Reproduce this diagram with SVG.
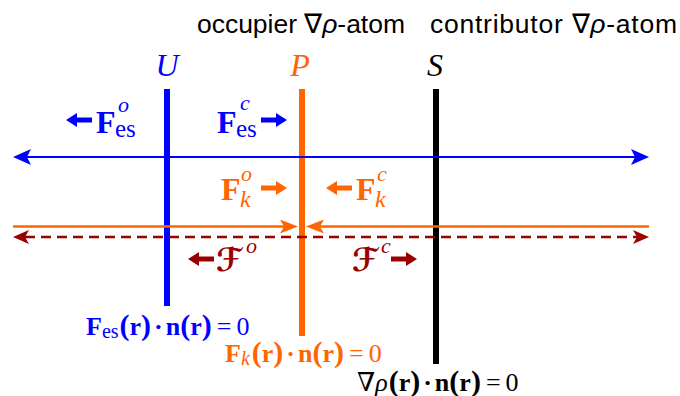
<svg xmlns="http://www.w3.org/2000/svg" width="680" height="396" viewBox="0 0 680 396">
<style>
.t{font-family:"Liberation Sans",Arial,sans-serif;font-size:26.5px;fill:#000}
.lab{font-family:"Liberation Serif","DejaVu Serif",serif;font-style:italic;font-size:32px;text-anchor:middle}
.F{font-family:"Liberation Serif",serif;font-weight:bold;font-size:32px}
.sub{font-family:"Liberation Serif",serif;font-size:25px}
.it{font-family:"Liberation Serif",serif;font-style:italic;font-size:24px}
.sup{font-family:"Liberation Serif",serif;font-style:italic;font-size:22px}
.scr{font-family:"DejaVu Sans","Noto Sans",serif;font-weight:bold;font-size:32px}
.eq{font-family:"Liberation Serif","DejaVu Serif",serif;font-weight:bold;font-size:26px}
.eqs{font-family:"Liberation Serif",serif;font-weight:normal;font-size:20px}
.par{font-size:30px}
.eqn{font-weight:normal}
.blue{fill:#0000FF}
.orange{fill:#FF6600}
.dred{fill:#990000}
.blk{fill:#000}
</style>
<defs>
<path id="fa" d="M0,-2.5 H15 V-7 L26,0 L15,7 V2.5 H0 Z"/>
<marker id="mb" viewBox="0 0 18 16" refX="4" refY="8" markerWidth="18" markerHeight="16" markerUnits="userSpaceOnUse" orient="auto-start-reverse"><path d="M0,0 L18,8 L0,16 L4,8 Z" fill="#0000FF"/></marker>
<marker id="mo" viewBox="0 0 18 14" refX="4" refY="7" markerWidth="18" markerHeight="14" markerUnits="userSpaceOnUse" orient="auto-start-reverse"><path d="M0,0 L18,7 L0,14 L4,7 Z" fill="#FF6600"/></marker>
<marker id="mr" viewBox="0 0 16 14" refX="4" refY="7" markerWidth="16" markerHeight="14" markerUnits="userSpaceOnUse" orient="auto-start-reverse"><path d="M0,0 L16,7 L0,14 L4,7 Z" fill="#990000"/></marker>
</defs>

<g id="titles">
<text class="t" x="197" y="33" textLength="208" lengthAdjust="spacing">occupier ∇<tspan font-style="italic">ρ</tspan>-atom</text>
<text class="t" x="430" y="33" textLength="247" lengthAdjust="spacing">contributor ∇<tspan font-style="italic">ρ</tspan>-atom</text>
</g>

<g id="node-U">
<text class="lab blue" x="167" y="76">U</text>
<rect x="164" y="89" width="6" height="217" class="blue"/>
<text class="eq blue" x="86" y="335">F<tspan class="eqs" dy="3">es</tspan><tspan class="par" dx="1" dy="-3">(</tspan>r<tspan class="par">)</tspan><tspan dx="3">·</tspan><tspan dx="3">n</tspan><tspan class="par">(</tspan>r<tspan class="par">)</tspan><tspan class="eqn" dx="5">=</tspan><tspan class="eqn" dx="5">0</tspan></text>
</g>

<g id="node-P">
<text class="lab orange" x="300" y="76">P</text>
<rect x="299" y="89" width="6" height="247" class="orange"/>
<text class="eq orange" x="225" y="362">F<tspan class="eqs" font-style="italic" dy="3">k</tspan><tspan class="par" dx="2" dy="-3">(</tspan>r<tspan class="par">)</tspan><tspan dx="3">·</tspan><tspan dx="3">n</tspan><tspan class="par">(</tspan>r<tspan class="par">)</tspan><tspan class="eqn" dx="5">=</tspan><tspan class="eqn" dx="5">0</tspan></text>
</g>

<g id="node-S">
<text class="lab blk" x="435" y="76">S</text>
<rect x="433" y="89" width="6" height="275" class="blk"/>
<text class="eq blk" x="357" y="391"><tspan class="eqn">∇</tspan><tspan class="eqn" font-style="italic">ρ</tspan><tspan class="par" dx="1">(</tspan>r<tspan class="par">)</tspan><tspan dx="3">·</tspan><tspan dx="3">n</tspan><tspan class="par">(</tspan>r<tspan class="par">)</tspan><tspan class="eqn" dx="5">=</tspan><tspan class="eqn" dx="5">0</tspan></text>
</g>

<g id="connectors">
<line x1="27" y1="157" x2="635" y2="157" stroke="#0000FF" stroke-width="2.2" marker-start="url(#mb)" marker-end="url(#mb)"/>
<line x1="13" y1="226.5" x2="284" y2="226.5" stroke="#FF6600" stroke-width="2.5" marker-end="url(#mo)"/>
<line x1="649" y1="226.5" x2="320" y2="226.5" stroke="#FF6600" stroke-width="2.5" marker-end="url(#mo)"/>
<line x1="25" y1="237" x2="637" y2="237" stroke="#990000" stroke-width="2.5" stroke-dasharray="10 6" marker-start="url(#mr)" marker-end="url(#mr)"/>
</g>

<g id="force-labels">
<use href="#fa" transform="translate(92,120) scale(-1,1)" class="blue"/>
<text class="F blue" x="96" y="133">F</text>
<text class="sub blue" x="115" y="137">es</text>
<text class="sup blue" x="118" y="112">o</text>

<text class="F blue" x="217" y="133">F</text>
<text class="sub blue" x="236" y="137">es</text>
<text class="sup blue" x="240" y="110">c</text>
<use href="#fa" transform="translate(261,120)" class="blue"/>

<text class="F orange" x="221" y="200">F</text>
<text class="it orange" x="240" y="207">k</text>
<text class="sup orange" x="241" y="181">o</text>
<use href="#fa" transform="translate(261,188)" class="orange"/>

<use href="#fa" transform="translate(352,188) scale(-1,1)" class="orange"/>
<text class="F orange" x="356" y="200">F</text>
<text class="it orange" x="375" y="207">k</text>
<text class="sup orange" x="377" y="181">c</text>

<use href="#fa" transform="translate(214,259) scale(-1,1)" class="dred"/>
<text class="scr dred" x="216" y="271">ℱ</text>
<text class="sup dred" x="246" y="253">o</text>

<text class="scr dred" x="352" y="271">ℱ</text>
<text class="sup dred" x="381" y="253">c</text>
<use href="#fa" transform="translate(391,259)" class="dred"/>
</g>
</svg>
